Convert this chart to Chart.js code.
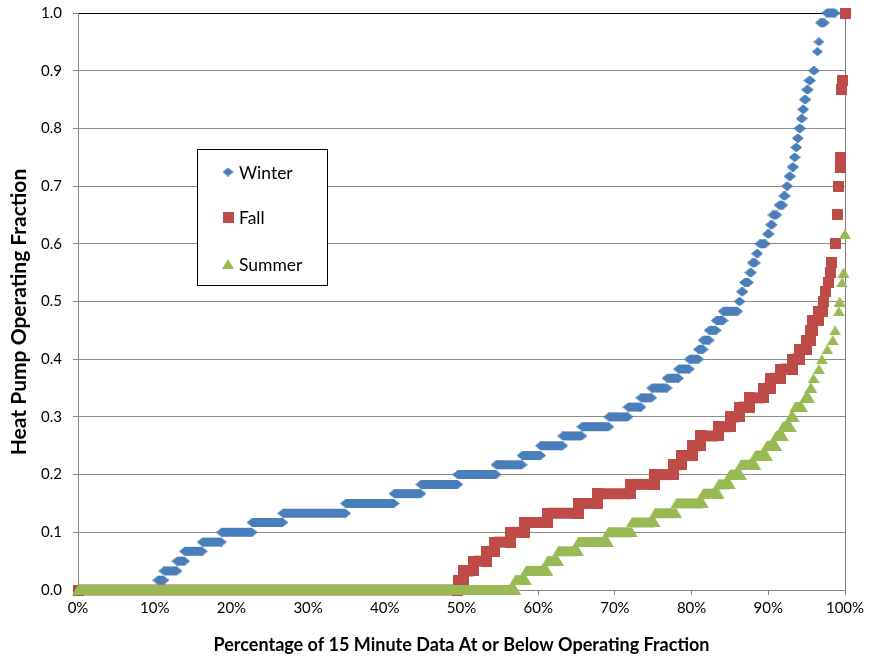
<!DOCTYPE html>
<html>
<head>
<meta charset="utf-8">
<script src="https://cdn.jsdelivr.net/npm/chart.js@4.4.1/dist/chart.umd.min.js"></script>
<style>
  html, body { margin: 0; padding: 0; background: #ffffff; }
  #wrap { position: relative; width: 870px; height: 657px; }
</style>
</head>
<body>
<div id="wrap"><canvas id="chart" width="870" height="657"></canvas></div>
<script>
// Heat pump operating fraction vs. cumulative share of 15-minute records.
// Each level of operating fraction covers the percentile range [from, to].
const winterLevel = [0, 0.017, 0.033, 0.05, 0.067, 0.083, 0.1, 0.117, 0.133, 0.15,
  0.167, 0.183, 0.2, 0.217, 0.233, 0.25, 0.267, 0.283, 0.3, 0.317,
  0.333, 0.35, 0.367, 0.383, 0.4, 0.417, 0.433, 0.45, 0.467, 0.483,
  0.5, 0.517, 0.533, 0.55, 0.567, 0.583, 0.6, 0.617, 0.633, 0.65,
  0.667, 0.683, 0.7, 0.717, 0.733, 0.75, 0.767, 0.783, 0.8, 0.817,
  0.833, 0.85, 0.867, 0.883, 0.9, 0.933, 0.95, 0.983, 1];
const winterFrom = [0, 10.4, 11.2, 12.9, 13.9, 16.2, 18.7, 22.7, 26.7, 34.9,
  41.2, 44.7, 49.5, 54.5, 57.9, 60.3, 63.2, 65.7, 69.2, 71.7,
  73.4, 74.8, 76.8, 78.3, 79.7, 80.9, 81.5, 82.3, 83.2, 84.1,
  86.2, 86.5, 86.9, 87.6, 87.9, 88.5, 88.9, 89.9, 90.3, 90.6,
  91.4, 92.0, 92.4, 92.7, 93.1, 93.4, 93.6, 93.8, 94.0, 94.3,
  94.5, 94.7, 95.0, 95.3, 95.9, 96.4, 96.6, 96.8, 97.6];
const winterTo = [10.3, 11.2, 12.9, 13.9, 16.2, 18.7, 22.7, 26.7, 34.9, 41.2,
  44.7, 49.5, 54.5, 57.9, 60.3, 63.2, 65.7, 69.2, 71.7, 73.4,
  74.8, 76.8, 78.3, 79.7, 80.9, 81.5, 82.3, 83.2, 84.1, 86.0,
  86.3, 86.7, 87.4, 87.8, 88.3, 88.6, 89.6, 90.1, 90.5, 91.1,
  91.9, 92.2, 92.5, 92.9, 93.3, 93.5, 93.7, 93.9, 94.2, 94.4,
  94.6, 94.9, 95.2, 95.5, 96.0, 96.4, 96.6, 97.3, 98.7];

const fallLevel = [0, 0.017, 0.033, 0.05, 0.067, 0.083, 0.1, 0.117, 0.133, 0.15,
  0.167, 0.183, 0.2, 0.217, 0.233, 0.25, 0.267, 0.283, 0.3, 0.317,
  0.333, 0.35, 0.367, 0.383, 0.4, 0.417, 0.433, 0.45, 0.467, 0.483,
  0.5, 0.517, 0.533, 0.55, 0.567, 0.6, 0.65, 0.7, 0.733, 0.75,
  0.867, 0.883, 1];
const fallFrom = [0, 49.6, 50.3, 51.6, 53.3, 54.3, 56.4, 58.2, 61.2, 65.2,
  67.7, 72.0, 75.2, 77.7, 78.7, 80.1, 81.2, 83.5, 85.1, 86.2,
  87.6, 89.4, 90.3, 91.6, 93.1, 94.1, 95.0, 95.5, 95.8, 96.6,
  97.2, 97.5, 97.8, 98.1, 98.3, 98.8, 99.0, 99.1, 99.4, 99.4,
  99.6, 99.7, 100];
const fallTo = [49.5, 50.3, 51.6, 53.3, 54.3, 56.4, 58.2, 61.2, 65.2, 67.7,
  72.0, 75.2, 77.7, 78.7, 80.1, 81.2, 83.5, 85.1, 86.2, 87.6,
  89.4, 90.3, 91.6, 93.1, 94.1, 95.0, 95.5, 95.8, 96.6, 97.1,
  97.2, 97.5, 97.8, 98.1, 98.3, 98.8, 99.0, 99.1, 99.4, 99.4,
  99.6, 99.7, 100];

const summerLevel = [0, 0.017, 0.033, 0.05, 0.067, 0.083, 0.1, 0.117, 0.133, 0.15,
  0.167, 0.183, 0.2, 0.217, 0.233, 0.25, 0.267, 0.283, 0.3, 0.317,
  0.333, 0.35, 0.367, 0.383, 0.4, 0.417, 0.433, 0.45, 0.483, 0.5,
  0.533, 0.55, 0.617];
const summerFrom = [0, 57.0, 58.4, 61.2, 62.6, 65.2, 69.1, 72.2, 75.2, 78.0,
  81.5, 83.5, 85.0, 86.4, 88.3, 89.8, 91.0, 91.9, 92.9, 93.5,
  94.8, 95.5, 95.9, 96.6, 97.0, 97.7, 98.4, 98.7, 99.2, 99.3,
  99.6, 99.8, 100];
const summerTo = [57.0, 58.4, 61.2, 62.6, 65.2, 69.1, 72.2, 75.2, 78.0, 81.5,
  83.5, 85.0, 86.4, 88.3, 89.8, 91.0, 91.9, 92.9, 93.3, 94.4,
  95.3, 95.6, 95.9, 96.6, 97.0, 97.7, 98.4, 98.7, 99.2, 99.3,
  99.6, 99.8, 100];

const seriesNames = ['Winter', 'Fall', 'Summer'];
const xTitle = 'Percentage of 15 Minute Data At or Below Operating Fraction';
const yTitle = 'Heat Pump Operating Fraction';

const BLUE = '#4A7EBB', RED = '#BE4B48', GREEN = '#98B954';
const FONT = 'Lato, "Open Sans", sans-serif';

// Marker bitmaps (centred on the data point by Chart.js)
function makeMarker(shape, w, h, color) {
  const c = document.createElement('canvas');
  c.width = w; c.height = h;
  const g = c.getContext('2d');
  g.fillStyle = color;
  g.beginPath();
  if (shape === 'diamond') {
    g.moveTo(0, h / 2); g.lineTo(w / 2, 0); g.lineTo(w, h / 2); g.lineTo(w / 2, h);
  } else if (shape === 'square') {
    g.rect(0, 0, w, h);
  } else {
    g.moveTo(0, h); g.lineTo(w / 2, 0); g.lineTo(w, h);
  }
  g.closePath();
  g.fill();
  return c;
}
const diamond = makeMarker('diamond', 11, 9, BLUE);
const square = makeMarker('square', 11, 11, RED);
const triangle = makeMarker('triangle', 12, 10, GREEN);

// One horizontal run per level: a point at each end of its range
function runs(levels, from, to) {
  const pts = [];
  levels.forEach((y, i) => {
    pts.push({ x: from[i], y: y });
    if (to[i] !== from[i]) pts.push({ x: to[i], y: y });
  });
  return pts;
}

// Only the flat runs are stroked; rises between levels stay invisible
const flatOnly = { borderColor: c => (c.p0.parsed.y === c.p1.parsed.y ? undefined : 'rgba(0,0,0,0)') };

function series(label, data, color, marker, thickness, order) {
  return {
    label, data, order,
    showLine: true,
    borderColor: color,
    backgroundColor: color,
    borderWidth: thickness,
    borderCapStyle: 'butt',
    tension: 0,
    pointStyle: marker,
    pointRadius: 5,
    pointHoverRadius: 5,
    pointBorderWidth: 0,
    segment: flatOnly,
    clip: false
  };
}

// Boxed legend inside the plot and the two axis titles
const decorations = {
  id: 'decorations',
  afterDraw(chart) {
    const ctx = chart.ctx;
    const area = chart.chartArea;
    ctx.save();
    ctx.fillStyle = '#ffffff';
    ctx.fillRect(197.5, 149.5, 130, 136);
    ctx.strokeStyle = '#000000';
    ctx.lineWidth = 1;
    ctx.strokeRect(197.5, 149.5, 130, 136);
    const rowY = [172, 217, 264];
    const marks = [diamond, square, triangle];
    ctx.font = '17.5px ' + FONT;
    ctx.fillStyle = '#000000';
    ctx.textBaseline = 'middle';
    ctx.textAlign = 'left';
    seriesNames.forEach((name, i) => {
      const m = marks[i];
      ctx.drawImage(m, 228 - m.width / 2, rowY[i] - m.height / 2);
      ctx.fillText(name, 239, rowY[i] + 1);
    });

    ctx.textAlign = 'center';
    ctx.font = 'bold 18px ' + FONT;
    ctx.fillText(xTitle, (area.left + area.right) / 2, 645);
    ctx.font = 'bold 21px ' + FONT;
    ctx.translate(19, 312);
    ctx.rotate(-Math.PI / 2);
    ctx.fillText(yTitle, 0, 0);
    ctx.restore();
  }
};

new Chart(document.getElementById('chart'), {
  type: 'scatter',
  data: {
    datasets: [
      series(seriesNames[0], runs(winterLevel, winterFrom, winterTo), BLUE, diamond, 9, 3),
      series(seriesNames[1], runs(fallLevel, fallFrom, fallTo), RED, square, 11, 2),
      series(seriesNames[2], runs(summerLevel, summerFrom, summerTo), GREEN, triangle, 10, 1)
    ]
  },
  options: {
    responsive: false,
    animation: false,
    devicePixelRatio: 1,
    events: [],
    layout: { padding: { top: 13, right: 25, left: 0, bottom: 0 } },
    plugins: { legend: { display: false }, tooltip: { enabled: false } },
    scales: {
      x: {
        type: 'linear', min: 0, max: 100,
        afterFit: s => { s.height = 67; },
        ticks: {
          stepSize: 10, color: '#000000', padding: 4,
          font: { family: FONT, size: 15 },
          callback: v => v + '%'
        },
        grid: {
          color: c => (c.tick && c.tick.value === 100 ? '#7f7f7f' : 'rgba(0,0,0,0)'),
          tickColor: '#868686', tickLength: 5, lineWidth: 1
        },
        border: { color: '#868686', width: 1 }
      },
      y: {
        min: 0, max: 1,
        afterFit: s => { s.width = 78; s.paddingTop = 0; s.paddingBottom = 0; },
        ticks: {
          stepSize: 0.1, color: '#000000', padding: 11,
          font: { family: FONT, size: 15 },
          callback: v => v.toFixed(1)
        },
        grid: {
          color: c => (c.tick && c.tick.value === 1 ? '#000000' : '#8c8c8c'),
          tickColor: '#868686', tickLength: 5, lineWidth: 1
        },
        border: { color: '#868686', width: 1 }
      }
    }
  },
  plugins: [decorations]
});
</script>
</body>
</html>
